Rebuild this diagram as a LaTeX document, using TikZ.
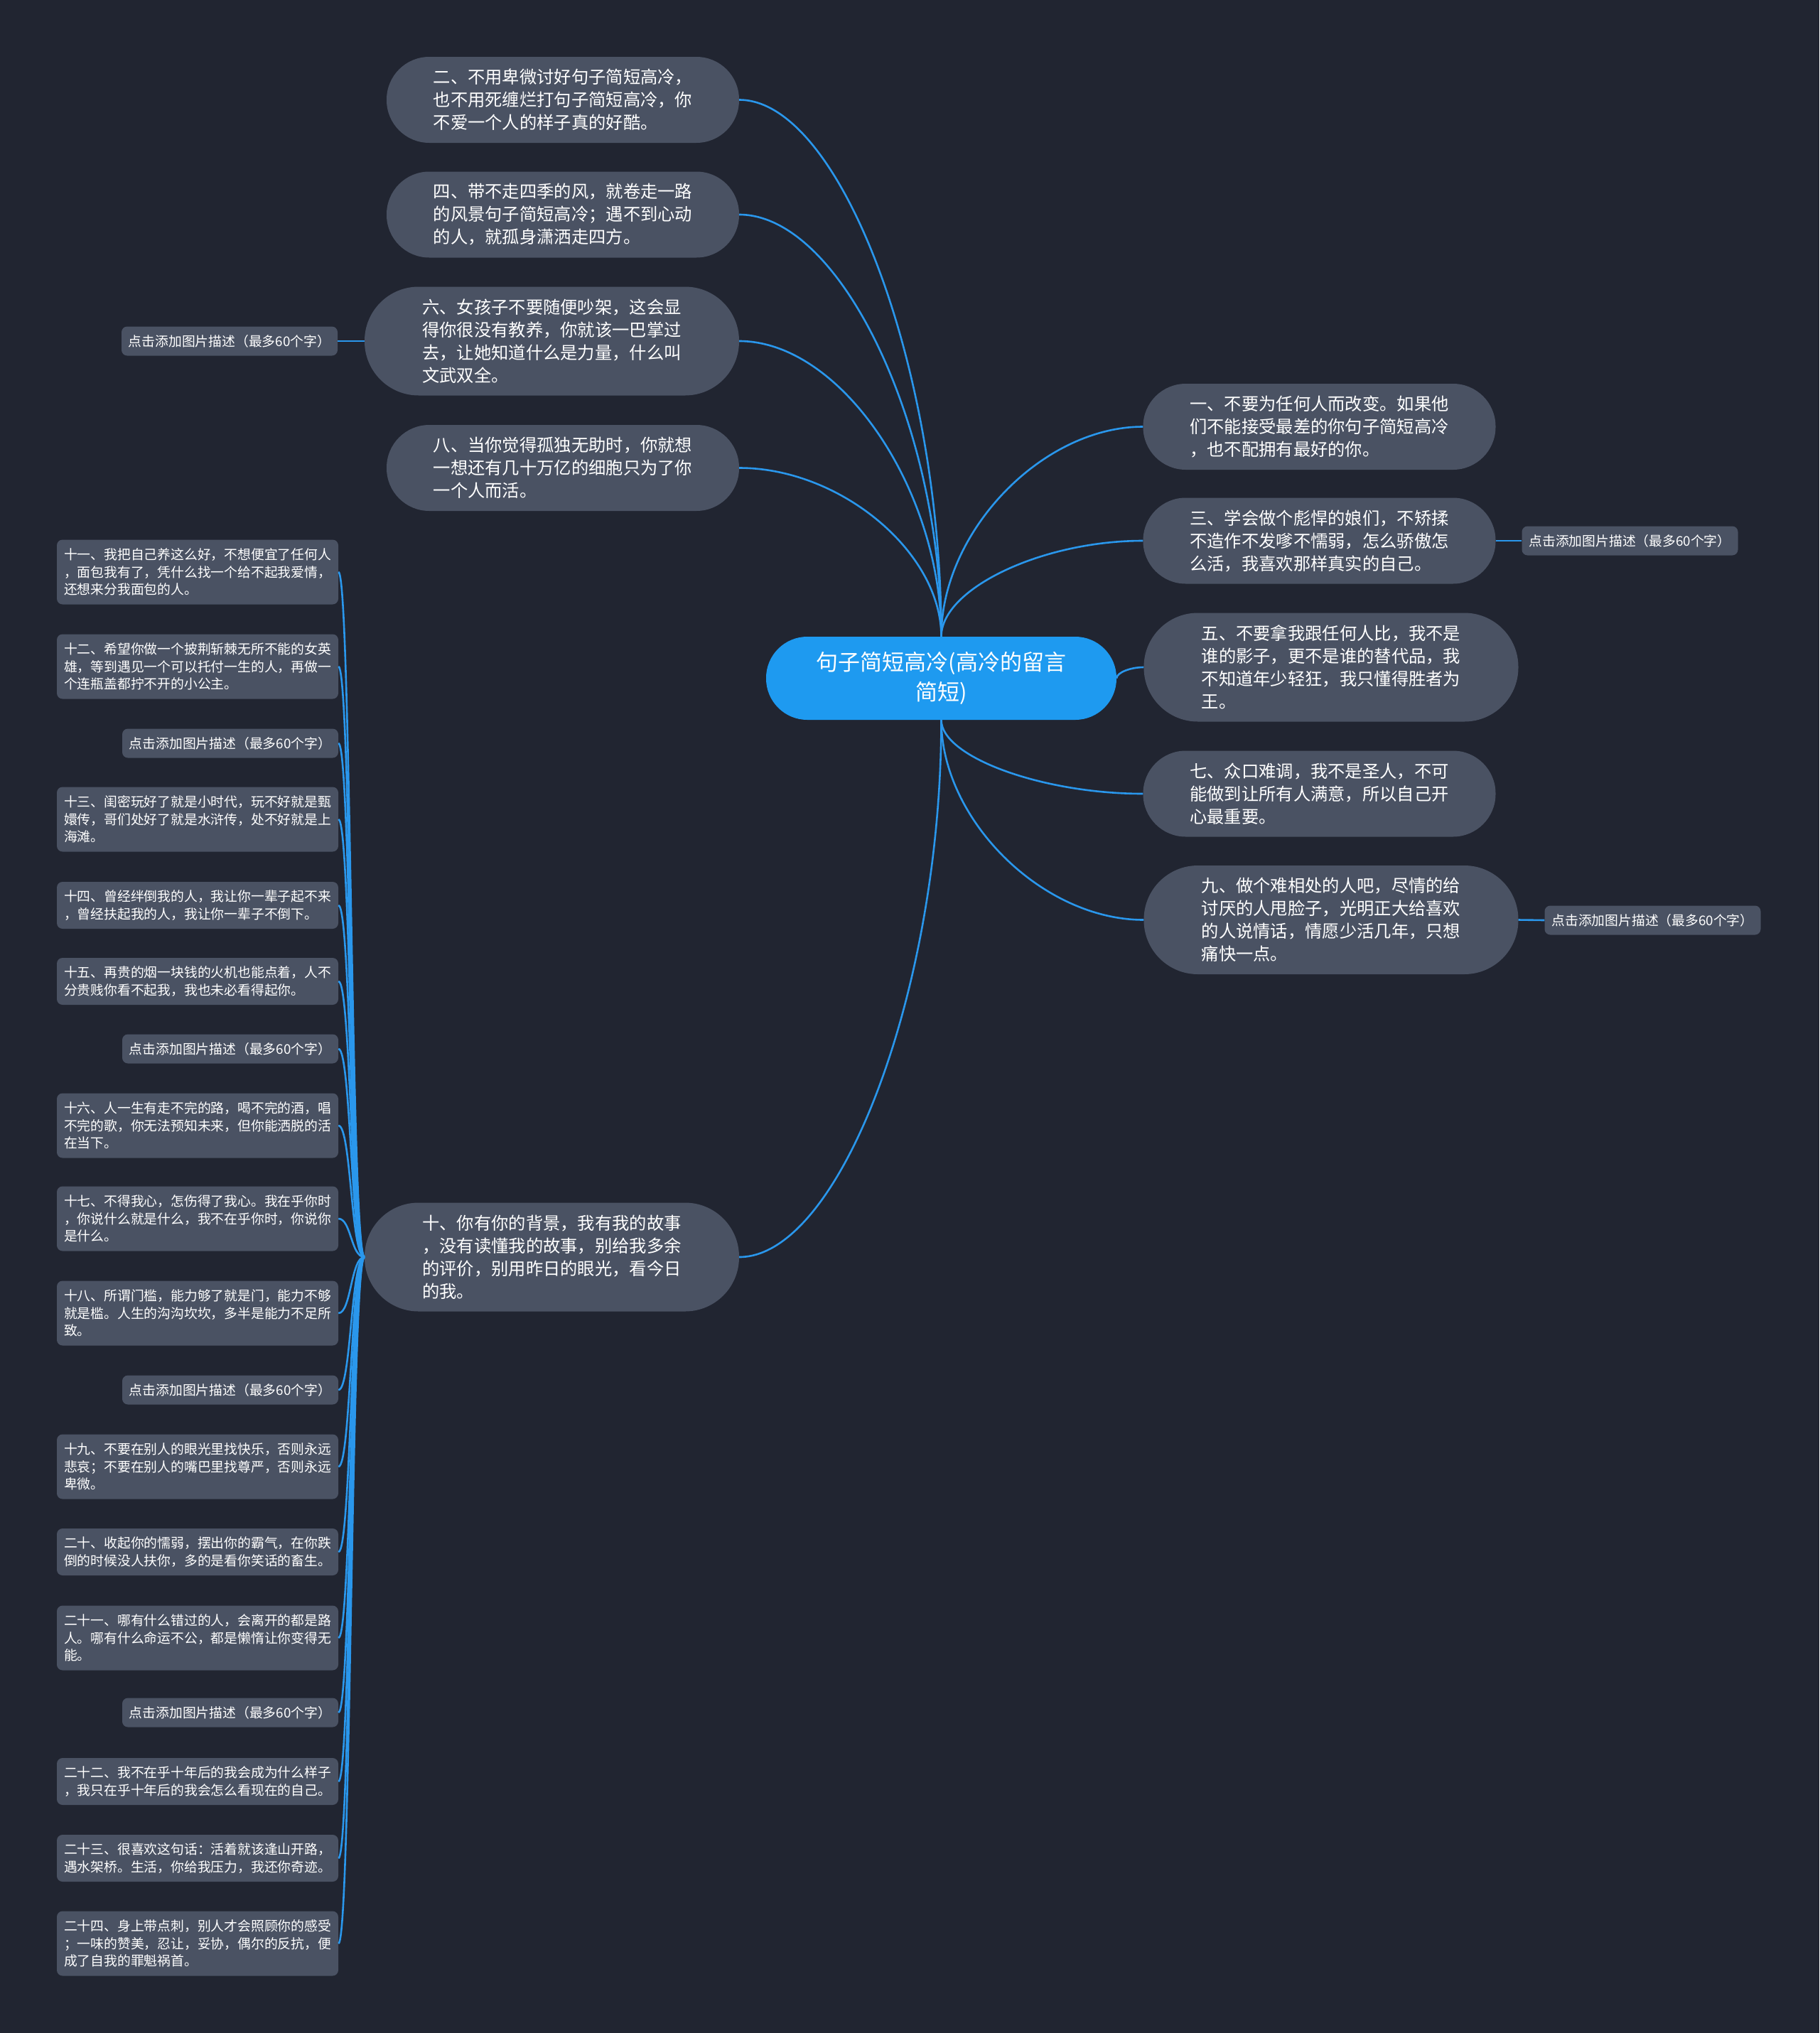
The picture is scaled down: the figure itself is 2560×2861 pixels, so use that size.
\documentclass[tikz,border=0pt]{standalone}
\usepackage{fontspec}
\usepackage{tikz}
\usetikzlibrary{calc}
\newfontfamily\cjk{Noto Sans CJK SC}
\definecolor{bgnavy}{HTML}{212531}
\definecolor{cardgray}{HTML}{4A5263}
\definecolor{rootblue}{HTML}{1E9AF0}
\definecolor{linkblue}{HTML}{2A97EC}

\begin{document}
\begin{tikzpicture}[x=1pt, y=-1pt,
  every node/.style={text=white, inner sep=0pt},
  root/.style={fill=rootblue, rounded corners=58pt, minimum width=493pt, minimum height=117pt, align=center, font=\cjk\fontsize{31}{42}\selectfont},
  topic/.style={fill=cardgray, rounded corners=60pt, minimum width=496pt, minimum height=121pt, align=left, font=\cjk\fontsize{24.3}{32}\selectfont},
  widetopic/.style={topic, rounded corners=76pt, minimum width=527pt, minimum height=153pt},
  leaf/.style={fill=cardgray, rounded corners=8pt, minimum width=396pt, minimum height=91pt, align=left, font=\cjk\fontsize{18.8}{24.6}\selectfont},
  leaftwo/.style={leaf, minimum height=66pt},
  imgnote/.style={fill=cardgray, rounded corners=8pt, minimum width=304pt, minimum height=41pt, font=\cjk\fontsize{18.8}{24.6}\selectfont},
  link/.style={draw=linkblue, line width=2.6pt},
  branch/.style={to path={.. controls ($(\tikztostart)!0.5!(\tikztostart|-\tikztotarget)$) and ($(\tikztotarget)!0.5!(\tikztostart|-\tikztotarget)$) .. (\tikztotarget)}},
  twig/.style={to path={.. controls ($(\tikztostart)+(-19,0)$) and ($(\tikztotarget)+(18,0)$) .. (\tikztotarget)}}]
  \useasboundingbox (0,0) rectangle (2560,2861);
  \fill[bgnavy] (0,0) rectangle (2560,2861);

  % centre
  \node[root] (root) at (1324.5,954.5) {句子简短高冷(高冷的留言\\简短)};

  % left topics
  \node[topic] (t2) at (792,140.5) {二、不用卑微讨好句子简短高冷，\\也不用死缠烂打句子简短高冷，你\\不爱一个人的样子真的好酷。};
  \node[topic] (t4) at (792,302) {四、带不走四季的风，就卷走一路\\的风景句子简短高冷；遇不到心动\\的人，就孤身潇洒走四方。};
  \node[widetopic] (t6) at (776.5,480) {六、女孩子不要随便吵架，这会显\\得你很没有教养，你就该一巴掌过\\去，让她知道什么是力量，什么叫\\文武双全。};
  \node[topic] (t8) at (792,658.5) {八、当你觉得孤独无助时，你就想\\一想还有几十万亿的细胞只为了你\\一个人而活。};
  \node[widetopic] (t10) at (776.5,1769) {十、你有你的背景，我有我的故事\\，没有读懂我的故事，别给我多余\\的评价，别用昨日的眼光，看今日\\的我。};

  % right topics
  \node[topic] (t1) at (1856.5,600.5) {一、不要为任何人而改变。如果他\\们不能接受最差的你句子简短高冷\\，也不配拥有最好的你。};
  \node[topic] (t3) at (1856.5,761) {三、学会做个彪悍的娘们，不矫揉\\不造作不发嗲不懦弱，怎么骄傲怎\\么活，我喜欢那样真实的自己。};
  \node[widetopic] (t5) at (1873,939) {五、不要拿我跟任何人比，我不是\\谁的影子，更不是谁的替代品，我\\不知道年少轻狂，我只懂得胜者为\\王。};
  \node[topic] (t7) at (1856.5,1117) {七、众口难调，我不是圣人，不可\\能做到让所有人满意，所以自己开\\心最重要。};
  \node[widetopic] (t9) at (1873,1294.5) {九、做个难相处的人吧，尽情的给\\讨厌的人甩脸子，光明正大给喜欢\\的人说情话，情愿少活几年，只想\\痛快一点。};

  % picture notes
  \node[imgnote] (p3) at (2293.5,761) {点击添加图片描述（最多60个字）};
  \node[imgnote] (p9) at (2325.5,1295) {点击添加图片描述（最多60个字）};
  \node[imgnote] (p6) at (323,480) {点击添加图片描述（最多60个字）};

  % children of ten
  \node[leaf] (s11) at (278,805) {十一、我把自己养这么好，不想便宜了任何人\\，面包我有了，凭什么找一个给不起我爱情，\\还想来分我面包的人。};
  \node[leaf] (s12) at (278,938) {十二、希望你做一个披荆斩棘无所不能的女英\\雄，等到遇见一个可以托付一生的人，再做一\\个连瓶盖都拧不开的小公主。};
  \node[imgnote] (pa) at (324,1046) {点击添加图片描述（最多60个字）};
  \node[leaf] (s13) at (278,1153) {十三、闺密玩好了就是小时代，玩不好就是甄\\嬛传，哥们处好了就是水浒传，处不好就是上\\海滩。};
  \node[leaftwo] (s14) at (278,1274) {十四、曾经绊倒我的人，我让你一辈子起不来\\，曾经扶起我的人，我让你一辈子不倒下。};
  \node[leaftwo] (s15) at (278,1381) {十五、再贵的烟一块钱的火机也能点着，人不\\分贵贱你看不起我，我也未必看得起你。};
  \node[imgnote] (pb) at (324,1476) {点击添加图片描述（最多60个字）};
  \node[leaf] (s16) at (278,1584) {十六、人一生有走不完的路，喝不完的酒，唱\\不完的歌，你无法预知未来，但你能洒脱的活\\在当下。};
  \node[leaf] (s17) at (278,1715) {十七、不得我心，怎伤得了我心。我在乎你时\\，你说什么就是什么，我不在乎你时，你说你\\是什么。};
  \node[leaf] (s18) at (278,1848) {十八、所谓门槛，能力够了就是门，能力不够\\就是槛。人生的沟沟坎坎，多半是能力不足所\\致。};
  \node[imgnote] (pc) at (324,1956) {点击添加图片描述（最多60个字）};
  \node[leaf] (s19) at (278,2064) {十九、不要在别人的眼光里找快乐，否则永远\\悲哀；不要在别人的嘴巴里找尊严，否则永远\\卑微。};
  \node[leaftwo] (s20) at (278,2184) {二十、收起你的懦弱，摆出你的霸气，在你跌\\倒的时候没人扶你，多的是看你笑话的畜生。};
  \node[leaf] (s21) at (278,2305) {二十一、哪有什么错过的人，会离开的都是路\\人。哪有什么命运不公，都是懒惰让你变得无\\能。};
  \node[imgnote] (pd) at (324,2410) {点击添加图片描述（最多60个字）};
  \node[leaftwo] (s22) at (278,2507) {二十二、我不在乎十年后的我会成为什么样子\\，我只在乎十年后的我会怎么看现在的自己。};
  \node[leaftwo] (s23) at (278,2615) {二十三、很喜欢这句话：活着就该逢山开路，\\遇水架桥。生活，你给我压力，我还你奇迹。};
  \node[leaf] (s24) at (278,2735) {二十四、身上带点刺，别人才会照顾你的感受\\；一味的赞美，忍让，妥协，偶尔的反抗，便\\成了自我的罪魁祸首。};

  % branches from the centre
  \draw[link] (root.north) to[branch] (t2.east);
  \draw[link] (root.north) to[branch] (t4.east);
  \draw[link] (root.north) to[branch] (t6.east);
  \draw[link] (root.north) to[branch] (t8.east);
  \draw[link] (root.north) to[branch] (t1.west);
  \draw[link] (root.north) to[branch] (t3.west);
  \draw[link] (root.east) to[branch] (t5.west);
  \draw[link] (root.south) to[branch] (t7.west);
  \draw[link] (root.south) to[branch] (t9.west);
  \draw[link] (root.south) to[branch] (t10.east);
  \draw[link] (t3.east) -- (p3.west);
  \draw[link] (t9.east) -- (p9.west);
  \draw[link] (t6.west) -- (p6.east);

  % twigs of ten
  \draw[link] (t10.west) to[twig] (s11.east);
  \draw[link] (t10.west) to[twig] (s12.east);
  \draw[link] (t10.west) to[twig] (pa.east);
  \draw[link] (t10.west) to[twig] (s13.east);
  \draw[link] (t10.west) to[twig] (s14.east);
  \draw[link] (t10.west) to[twig] (s15.east);
  \draw[link] (t10.west) to[twig] (pb.east);
  \draw[link] (t10.west) to[twig] (s16.east);
  \draw[link] (t10.west) to[twig] (s17.east);
  \draw[link] (t10.west) to[twig] (s18.east);
  \draw[link] (t10.west) to[twig] (pc.east);
  \draw[link] (t10.west) to[twig] (s19.east);
  \draw[link] (t10.west) to[twig] (s20.east);
  \draw[link] (t10.west) to[twig] (s21.east);
  \draw[link] (t10.west) to[twig] (pd.east);
  \draw[link] (t10.west) to[twig] (s22.east);
  \draw[link] (t10.west) to[twig] (s23.east);
  \draw[link] (t10.west) to[twig] (s24.east);
\end{tikzpicture}
\end{document}
